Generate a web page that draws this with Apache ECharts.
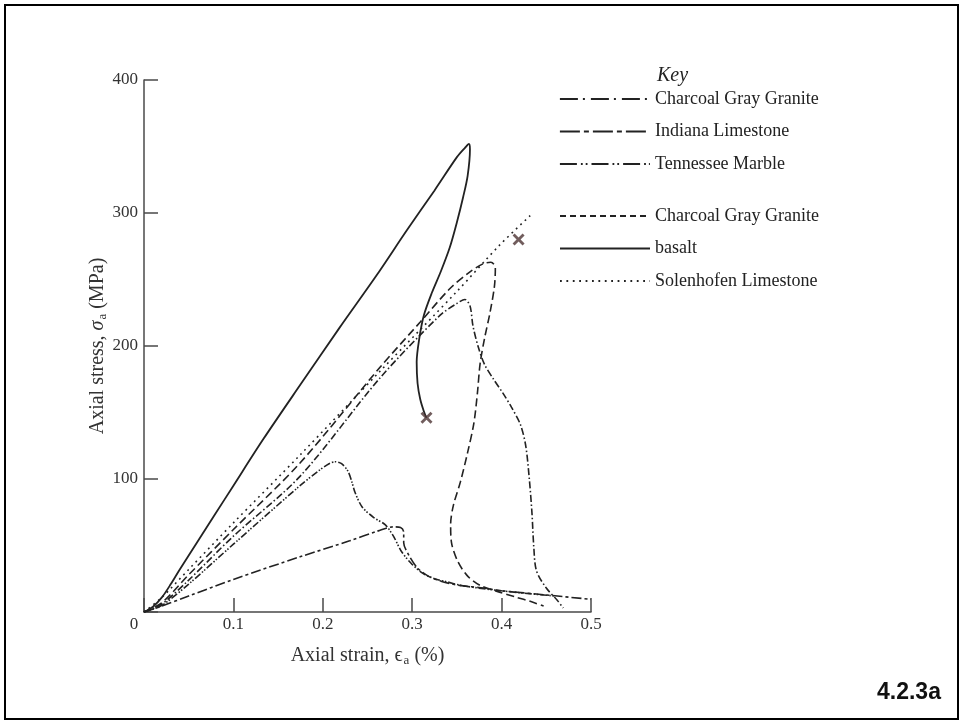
<!DOCTYPE html>
<html>
<head>
<meta charset="utf-8">
<script src="https://cdn.jsdelivr.net/npm/echarts@6/dist/echarts.min.js"></script>
<style>
  html, body { margin: 0; padding: 0; background: #ffffff; }
  #chart { width: 964px; height: 723px; }
</style>
</head>
<body>
<div id="chart"></div>
<script>
// Complete stress–strain curves in uniaxial compression (axial strain in %, axial stress in MPa)

const xTicks = [0, 0.1, 0.2, 0.3, 0.4, 0.5];
const yTicks = [0, 100, 200, 300, 400];

// Charcoal Gray Granite, first group (dash-dot)
const granite1Strain = [0, 0.02, 0.05, 0.1, 0.1745, 0.264, 0.331, 0.35, 0.359, 0.3647, 0.368, 0.374, 0.381, 0.391, 0.402, 0.411, 0.421, 0.427, 0.431, 0.434, 0.436, 0.439, 0.45, 0.462, 0.469];
const granite1Stress = [0, 6, 24, 57, 102, 176, 223, 232, 235, 230, 215, 199, 186, 175, 164, 154, 141, 125, 100, 74, 49, 31, 18, 9, 3];

// Indiana Limestone (long dash, short dash)
const indianaStrain = [0, 0.02, 0.05, 0.1, 0.1745, 0.23, 0.262, 0.279, 0.287, 0.2905, 0.2905, 0.296, 0.306, 0.318, 0.333, 0.353, 0.38, 0.4, 0.45, 0.5];
const indianaStress = [0, 4.5, 12, 24.5, 41.5, 53.5, 61, 64, 63.5, 60, 52, 43, 33, 27, 23, 20, 18, 16, 12.8, 9.5];

// Tennessee Marble (dash, dot, dot)
const marbleStrain = [0, 0.02, 0.05, 0.1, 0.1745, 0.195, 0.207, 0.2136, 0.221, 0.228, 0.232, 0.236, 0.244, 0.257, 0.27, 0.279, 0.288, 0.299, 0.312, 0.325, 0.34, 0.355, 0.38, 0.42, 0.46];
const marbleStress = [0, 5, 21, 51, 95, 106, 111.5, 113, 111.5, 106, 99, 90, 79, 71, 65.5, 57, 45.5, 36.5, 29, 25, 22.5, 20, 17.5, 14.5, 12];

// Charcoal Gray Granite, second group (dashed, snaps back past the peak)
const granite2Strain = [0, 0.02, 0.05, 0.1, 0.1745, 0.264, 0.309, 0.342, 0.365, 0.38, 0.388, 0.393, 0.392, 0.387, 0.381, 0.376, 0.373, 0.369, 0.362, 0.354, 0.346, 0.343, 0.344, 0.351, 0.362, 0.376, 0.395, 0.417, 0.432, 0.447];
const granite2Stress = [0, 7, 28, 62, 112, 184, 218, 243, 256, 262, 263, 259, 245, 225, 206, 187, 165, 142, 120, 98, 80, 66, 52, 38, 27, 20, 15.5, 11, 8, 4.5];

// basalt (solid)
const basaltStrain = [0, 0.01, 0.02, 0.03, 0.04, 0.06, 0.08, 0.1, 0.1335, 0.175, 0.219, 0.26, 0.294, 0.325, 0.35, 0.359, 0.3635, 0.3646, 0.362, 0.357, 0.35, 0.342, 0.332, 0.322, 0.313, 0.308, 0.305, 0.306, 0.309, 0.313, 0.316];
const basaltStress = [0, 4, 11, 21, 32, 53, 74, 95, 130, 171, 214, 253, 287, 317, 342, 349, 352, 348, 328, 312, 293, 274, 256, 240, 223, 206, 188, 172, 160, 151, 146];

// Solenhofen Limestone (dotted)
const solenhofenStrain = [0, 0.02, 0.05, 0.1, 0.1745, 0.264, 0.35, 0.398, 0.432];
const solenhofenStress = [0, 11, 32, 67, 118, 181, 241, 276, 298];

// Failure points (crosses)
const failureStrain = [0.316, 0.419];
const failureStress = [146, 280];

const FONT = '"Liberation Serif", "DejaVu Serif", "Times New Roman", serif';
const INK = '#222222';
const AXIS = '#4a4a4a';
const CROSS = '#4d3434';

function pairs(xs, ys) { return xs.map((x, i) => [x, ys[i]]); }

const curves = [
  { name: 'Charcoal Gray Granite',     strain: granite1Strain,   stress: granite1Stress,   dash: [7, 2.5, 1.5, 2.5],         legendDash: [18, 5, 2, 6],            group: 0 },
  { name: 'Indiana Limestone',         strain: indianaStrain,    stress: indianaStress,    dash: [10, 3, 3, 3],              legendDash: [20, 4, 5, 4],            group: 0 },
  { name: 'Tennessee Marble',          strain: marbleStrain,     stress: marbleStress,     dash: [7, 2, 1.5, 1.5, 1.5, 2],   legendDash: [17, 4, 1.8, 3, 1.8, 4],  group: 0 },
  { name: 'Charcoal Gray Granite (2)', strain: granite2Strain,   stress: granite2Stress,   dash: [8, 4],                     legendDash: [6, 4],                   group: 1 },
  { name: 'basalt',                    strain: basaltStrain,     stress: basaltStress,     dash: 'solid',                    legendDash: 'solid',                  group: 1 },
  { name: 'Solenhofen Limestone',      strain: solenhofenStrain, stress: solenhofenStress, dash: [1.8, 4.2],                 legendDash: [1.8, 4.6],               group: 1 }
];

const series = curves.map(c => ({
  type: 'line',
  name: c.name,
  data: pairs(c.strain, c.stress),
  symbol: 'none',
  showSymbol: false,
  smooth: 0.3,
  silent: true,
  lineStyle: { color: INK, width: c.dash === 'solid' ? 1.8 : 1.6, type: c.dash },
  itemStyle: { color: INK }
}));

series.push({
  type: 'scatter',
  name: 'failure',
  data: pairs(failureStrain, failureStress),
  symbol: 'path://M2,0 L6,4 L10,0 L12,2 L8,6 L12,10 L10,12 L6,8 L2,12 L0,10 L4,6 L0,2 Z',
  symbolSize: 12,
  silent: true,
  itemStyle: { color: CROSS },
  z: 5
});

function legendFor(group, top) {
  return {
    orient: 'vertical',
    left: 559,
    top: top,
    padding: 0,
    itemWidth: 90,
    itemHeight: 18,
    itemGap: 14.5,
    selectedMode: false,
    formatter: name => name.replace(/ \(\d\)$/, ''),
    textStyle: { fontFamily: FONT, fontSize: 18, color: '#222' },
    itemStyle: { color: 'rgba(0,0,0,0)', borderWidth: 0, opacity: 0 },
    data: curves.filter(c => c.group === group).map(c => ({
      name: c.name,
      itemStyle: { color: 'rgba(0,0,0,0)', borderWidth: 0, opacity: 0 },
      lineStyle: { type: c.legendDash, width: c.dash === 'solid' ? 2 : 1.8, color: INK, opacity: 1 }
    }))
  };
}

const subStyle = { fontFamily: FONT, fontSize: 13, color: '#333', padding: [9, 0, 0, 1] };

const option = {
  animation: false,
  backgroundColor: '#ffffff',
  grid: { left: 144, right: 373, top: 80, bottom: 111 },
  xAxis: {
    type: 'value',
    min: xTicks[0],
    max: xTicks[xTicks.length - 1],
    interval: 0.1,
    name: 'Axial strain, {e|ϵ}{s|a} (%)',
    nameLocation: 'middle',
    nameGap: 33,
    nameTextStyle: {
      fontFamily: FONT, fontSize: 20, color: '#333',
      rich: { e: { fontFamily: FONT, fontSize: 20, color: '#333' }, s: subStyle }
    },
    axisLine: { show: true, onZero: false, lineStyle: { color: AXIS, width: 1.5 } },
    axisTick: { show: true, inside: true, length: 14, lineStyle: { color: AXIS, width: 1.5 } },
    splitLine: { show: false },
    axisLabel: {
      margin: 4,
      fontFamily: FONT, fontSize: 17, color: '#333',
      formatter: v => (v === 0 ? '{z|0}' : v.toFixed(1)),
      rich: { z: { fontFamily: FONT, fontSize: 17, color: '#333', padding: [0, 20, 0, 0] } }
    }
  },
  yAxis: {
    type: 'value',
    min: yTicks[0],
    max: yTicks[yTicks.length - 1],
    interval: 100,
    name: 'Axial stress, {i|σ}{s|a} (MPa)',
    nameLocation: 'middle',
    nameGap: 35,
    nameTextStyle: {
      fontFamily: FONT, fontSize: 20, color: '#333',
      rich: { i: { fontFamily: FONT, fontSize: 20, fontStyle: 'italic', color: '#333' }, s: subStyle }
    },
    axisLine: { show: true, onZero: false, lineStyle: { color: AXIS, width: 1.5 } },
    axisTick: { show: true, inside: true, length: 14, lineStyle: { color: AXIS, width: 1.5 } },
    splitLine: { show: false },
    axisLabel: {
      margin: 6,
      fontFamily: FONT, fontSize: 17, color: '#333',
      formatter: v => (v === 0 ? '' : String(v))
    }
  },
  legend: [legendFor(0, 90), legendFor(1, 207)],
  graphic: [
    {
      type: 'rect',
      shape: { x: 5, y: 5, width: 953, height: 714 },
      style: { fill: 'none', stroke: '#000', lineWidth: 2 },
      silent: true
    },
    {
      type: 'text',
      left: 657,
      top: 66,
      style: { text: 'Key', font: 'italic 20px ' + FONT, fill: '#222' },
      silent: true
    },
    {
      type: 'text',
      left: 877,
      top: 681,
      style: { text: '4.2.3a', font: 'bold 23px "Liberation Sans", Arial, sans-serif', fill: '#111' },
      silent: true
    }
  ],
  series: series
};

const chart = echarts.init(document.getElementById('chart'), null, { renderer: 'canvas' });
chart.setOption(option);
</script>
</body>
</html>
